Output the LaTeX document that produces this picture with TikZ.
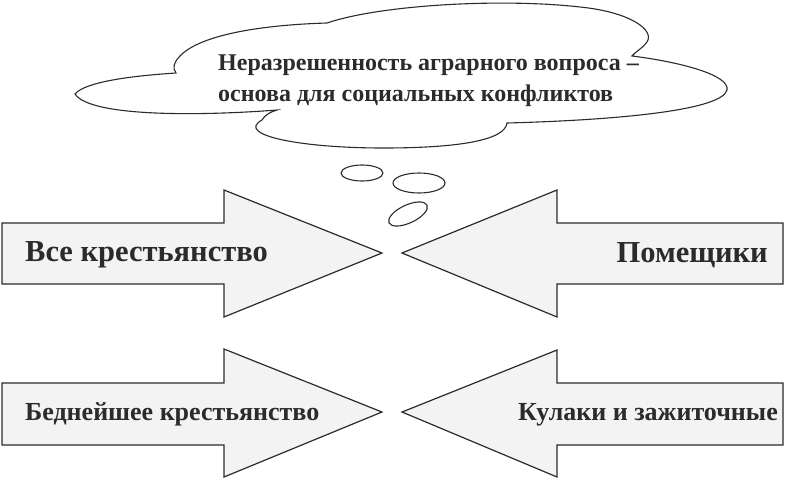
\documentclass[tikz,border=0pt]{standalone}
\usepackage{fontspec}
\setmainfont{Liberation Serif}
\usepackage{tikz}
\usepackage{xcolor}
\definecolor{ink}{HTML}{2B2B2B}
\definecolor{paper}{HTML}{F3F3F3}

\begin{document}
\begin{tikzpicture}[x=1pt,y=-1pt,
  arrowshape/.style={draw=ink,fill=paper,line width=1.2pt,line join=miter},
  bubble/.style={draw=ink,line width=1.1pt},
  arrowtext/.style={font=\fontsize{30.5}{32}\selectfont\bfseries,text=ink,inner sep=0pt},
  lowtext/.style={arrowtext,font=\fontsize{26}{30}\selectfont\bfseries},
  cloudtext/.style={font=\fontsize{24}{31}\selectfont\bfseries,text=ink,inner sep=0pt,align=left}]
\useasboundingbox (0,0) rectangle (787,479);
% thought cloud
\draw[bubble] (75,94) .. controls (85,82) and (130,76) .. (176,73)
  .. controls (172,68) and (174,62) .. (180,56)
  .. controls (200,35) and (260,25) .. (327,23)
  .. controls (380,5) and (500,-2) .. (580,7)
  .. controls (630,12) and (655,30) .. (647,42)
  .. controls (643,48) and (635,52) .. (632,56)
  .. controls (680,62) and (730,75) .. (727,90)
  .. controls (722,110) and (620,120) .. (507,123)
  .. controls (505,140) and (460,148) .. (383,148)
  .. controls (300,148) and (235,135) .. (262,120)
  .. controls (265,115) and (270,112) .. (277,110)
  .. controls (200,116) and (90,117) .. (75,94) -- cycle;
\node[cloudtext,anchor=base west] (question) at (218,101)
  {Неразрешенность аграрного вопроса –\\основа для социальных конфликтов};
% small bubbles
\draw[bubble] (362,173) ellipse [x radius=21,y radius=8];
\draw[bubble] (419,183) ellipse [x radius=26,y radius=10];
\draw[bubble,rotate around={25:(408,214)}] (408,214) ellipse [x radius=21,y radius=9];
% upper row
\draw[arrowshape] (2,223) -- (224,223) -- (224,190) -- (382,253) -- (224,317) -- (224,284) -- (2,284) -- cycle;
\node[arrowtext,anchor=base west] (peasants) at (25,261) {Все крестьянство};
\draw[arrowshape] (783,223) -- (557,223) -- (557,190) -- (402,253) -- (557,317) -- (557,284) -- (783,284) -- cycle;
\node[arrowtext,anchor=base east] (landlords) at (768,262) {Помещики};
% lower row
\draw[arrowshape] (2,383) -- (224,383) -- (224,349) -- (382,412) -- (224,477) -- (224,445) -- (2,445) -- cycle;
\node[lowtext,anchor=base west] (poorest) at (25,420) {Беднейшее крестьянство};
\draw[arrowshape] (783,383) -- (557,383) -- (557,350) -- (402,412) -- (557,477) -- (557,445) -- (783,445) -- cycle;
\node[lowtext,anchor=base east] (kulaks) at (778,420) {Кулаки и зажиточные};
\end{tikzpicture}
\end{document}
